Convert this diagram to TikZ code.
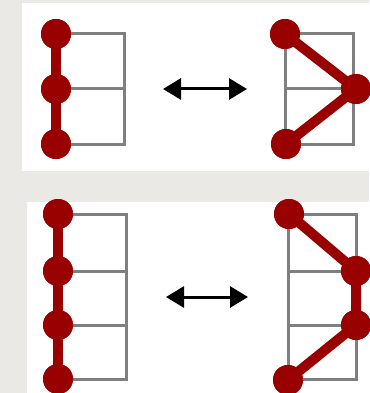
\documentclass[tikz,border=0pt]{standalone}
\usetikzlibrary{arrows.meta}
\definecolor{bgc}{HTML}{EBE9E5}
\definecolor{dotred}{HTML}{990000}
\definecolor{gridgray}{HTML}{7F7F7F}
\tikzset{
  dot/.style={circle,fill=dotred,inner sep=0pt,minimum size=30pt},
  link/.style={draw=dotred,line width=10pt},
  gridline/.style={draw=gridgray,line width=3pt},
  swap/.style={line width=3pt,{Triangle[length=18pt,width=21pt]}-{Triangle[length=18pt,width=21pt]}}
}
\begin{document}
\begin{tikzpicture}[x=1pt,y=-1pt]
\fill[bgc] (0,0) rectangle (369,393);
\useasboundingbox (0,0) rectangle (369,393);
\fill[white] (22,3) rectangle (369,171);
\fill[white] (27,202) rectangle (369,393);
% top left grid
\draw[gridline] (56,34) -- (124,34) -- (124,144) -- (56,144);
\draw[gridline] (56,89) -- (124,89);
\draw[gridline] (56,34) -- (56,144);
% top right grid
\draw[gridline] (285,34) -- (353,34) -- (353,144) -- (285,144) -- cycle;
\draw[gridline] (285,89) -- (353,89);
% bottom left grid
\draw[gridline] (58,214) -- (126,214) -- (126,379) -- (58,379);
\draw[gridline] (58,271) -- (126,271);
\draw[gridline] (58,325) -- (126,325);
% bottom right grid
\draw[gridline] (288,214) -- (356,214) -- (356,379) -- (288,379) -- cycle;
\draw[gridline] (288,271) -- (356,271);
\draw[gridline] (288,325) -- (356,325);
% dots
\node[dot] (a1) at (56,34) {};
\node[dot] (a2) at (56,89) {};
\node[dot] (a3) at (56,144) {};
\node[dot] (b1) at (285,34) {};
\node[dot] (b2) at (356,89) {};
\node[dot] (b3) at (286,144) {};
\node[dot] (c1) at (58,214) {};
\node[dot] (c2) at (58,271) {};
\node[dot] (c3) at (58,325) {};
\node[dot] (c4) at (58,379) {};
\node[dot] (d1) at (289,214) {};
\node[dot] (d2) at (356,271) {};
\node[dot] (d3) at (356,325) {};
\node[dot] (d4) at (288,380) {};
% links
\draw[link] (a1.center) -- (a2.center) -- (a3.center);
\draw[link] (b1.center) -- (b2.center) -- (b3.center);
\draw[link] (c1.center) -- (c2.center) -- (c3.center) -- (c4.center);
\draw[link] (d1.center) -- (d2.center) -- (d3.center) -- (d4.center);
% redraw dots on top of links
\foreach \n in {a1,a2,a3,b1,b2,b3,c1,c2,c3,c4,d1,d2,d3,d4}
  \fill[dotred] (\n.center) circle (15pt);
% arrows
\coordinate (p1) at (163,89);
\coordinate (p2) at (247,89);
\coordinate (q1) at (166,297);
\coordinate (q2) at (248,297);
\draw[swap] (p1) -- (p2);
\draw[swap] (q1) -- (q2);
\end{tikzpicture}
\end{document}
